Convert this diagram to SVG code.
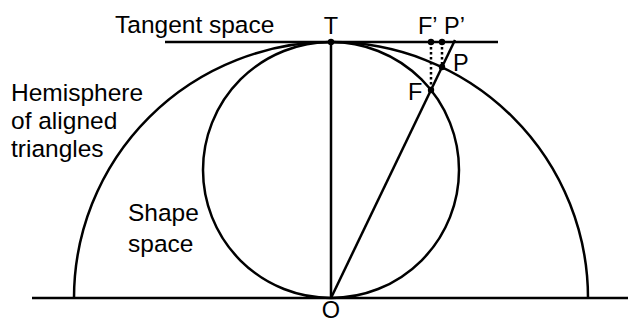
<svg xmlns="http://www.w3.org/2000/svg" width="628" height="322" viewBox="0 0 628 322">
<style>
.ln{fill:none;stroke:#000;stroke-width:2.5}
.dot{stroke:#000;stroke-width:2.5;stroke-dasharray:2.5 2.5;fill:none}
.t{font-family:"Liberation Sans",Arial,sans-serif;font-size:24.5px;fill:#000}
.l{font-family:"Liberation Sans",Arial,sans-serif;font-size:23.5px;fill:#000}
</style>
<rect width="628" height="322" fill="#fff"/>
<g id="connectors">
<line class="ln" x1="32" y1="298" x2="628" y2="298"/>
<line class="ln" x1="165" y1="42" x2="498" y2="42"/>
<line class="ln" x1="331" y1="42" x2="331" y2="298"/>
<line class="ln" x1="331" y1="298" x2="455" y2="40"/>
<line class="dot" x1="431" y1="42" x2="431" y2="90"/>
<line class="dot" x1="442" y1="42" x2="442" y2="67"/>
</g>
<g id="hemisphere">
<path class="ln" d="M74 298 A257 256 0 0 1 588 298"/>
<text class="t" x="11" y="101">Hemisphere</text>
<text class="t" x="11" y="129">of aligned</text>
<text class="t" x="11" y="157">triangles</text>
</g>
<g id="shape-space">
<circle class="ln" cx="331" cy="170" r="128"/>
<text class="t" x="128" y="221">Shape</text>
<text class="t" x="128" y="252">space</text>
</g>
<g id="tangent-space">
<text class="t" x="115" y="33">Tangent space</text>
</g>
<g id="T"><circle cx="331" cy="42" r="3.2"/><text class="l" x="331" y="34" text-anchor="middle">T</text></g>
<g id="O"><text class="l" x="331" y="318" text-anchor="middle">O</text></g>
<g id="Fp"><circle cx="431" cy="42" r="3.2"/><text class="l" x="418" y="34">F’</text></g>
<g id="Pp"><circle cx="442" cy="42" r="3.2"/><text class="l" x="444" y="34">P’</text></g>
<g id="P"><circle cx="442" cy="67" r="3.2"/><text class="l" x="453" y="71">P</text></g>
<g id="F"><circle cx="431" cy="90" r="3.2"/><text class="l" x="408" y="100">F</text></g>
</svg>
